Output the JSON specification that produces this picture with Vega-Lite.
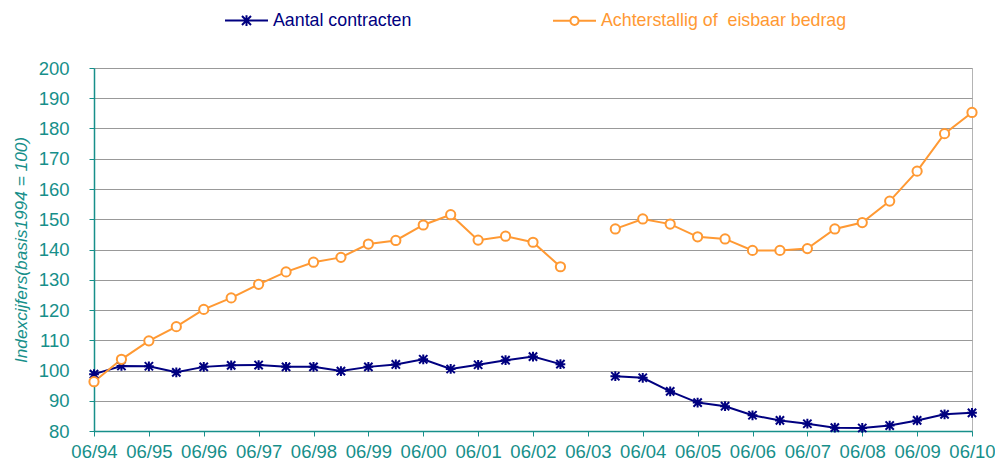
{
  "$schema": "https://vega.github.io/schema/vega-lite/v6.json",
  "autosize": "none",
  "width": 878,
  "height": 363,
  "padding": {"left": 94, "top": 68, "right": 23, "bottom": 34},
  "background": "white",
  "config": {
    "font": "Liberation Sans",
    "view": {"stroke": "#B4B4B4", "strokeWidth": 1}
  },
  "data": {
    "values": [
      {"periode": "06/94", "deel": 1, "Aantal contracten": 98.8, "Achterstallig of\u00a0 eisbaar bedrag": 96.3},
      {"periode": "12/94", "deel": 1, "Aantal contracten": 101.5, "Achterstallig of\u00a0 eisbaar bedrag": 103.7},
      {"periode": "06/95", "deel": 1, "Aantal contracten": 101.4, "Achterstallig of\u00a0 eisbaar bedrag": 109.8},
      {"periode": "12/95", "deel": 1, "Aantal contracten": 99.4, "Achterstallig of\u00a0 eisbaar bedrag": 114.5},
      {"periode": "06/96", "deel": 1, "Aantal contracten": 101.2, "Achterstallig of\u00a0 eisbaar bedrag": 120.2},
      {"periode": "12/96", "deel": 1, "Aantal contracten": 101.7, "Achterstallig of\u00a0 eisbaar bedrag": 124.0},
      {"periode": "06/97", "deel": 1, "Aantal contracten": 101.8, "Achterstallig of\u00a0 eisbaar bedrag": 128.5},
      {"periode": "12/97", "deel": 1, "Aantal contracten": 101.2, "Achterstallig of\u00a0 eisbaar bedrag": 132.6},
      {"periode": "06/98", "deel": 1, "Aantal contracten": 101.2, "Achterstallig of\u00a0 eisbaar bedrag": 135.8},
      {"periode": "12/98", "deel": 1, "Aantal contracten": 99.8, "Achterstallig of\u00a0 eisbaar bedrag": 137.4},
      {"periode": "06/99", "deel": 1, "Aantal contracten": 101.2, "Achterstallig of\u00a0 eisbaar bedrag": 141.8},
      {"periode": "12/99", "deel": 1, "Aantal contracten": 102.0, "Achterstallig of\u00a0 eisbaar bedrag": 143.0},
      {"periode": "06/00", "deel": 1, "Aantal contracten": 103.7, "Achterstallig of\u00a0 eisbaar bedrag": 148.1},
      {"periode": "12/00", "deel": 1, "Aantal contracten": 100.5, "Achterstallig of\u00a0 eisbaar bedrag": 151.5},
      {"periode": "06/01", "deel": 1, "Aantal contracten": 101.9, "Achterstallig of\u00a0 eisbaar bedrag": 143.1},
      {"periode": "12/01", "deel": 1, "Aantal contracten": 103.4, "Achterstallig of\u00a0 eisbaar bedrag": 144.4},
      {"periode": "06/02", "deel": 1, "Aantal contracten": 104.6, "Achterstallig of\u00a0 eisbaar bedrag": 142.4},
      {"periode": "12/02", "deel": 1, "Aantal contracten": 102.1, "Achterstallig of\u00a0 eisbaar bedrag": 134.3},
      {"periode": "12/03", "deel": 2, "Aantal contracten": 98.1, "Achterstallig of\u00a0 eisbaar bedrag": 146.8},
      {"periode": "06/04", "deel": 2, "Aantal contracten": 97.6, "Achterstallig of\u00a0 eisbaar bedrag": 150.1},
      {"periode": "12/04", "deel": 2, "Aantal contracten": 93.1, "Achterstallig of\u00a0 eisbaar bedrag": 148.4},
      {"periode": "06/05", "deel": 2, "Aantal contracten": 89.4, "Achterstallig of\u00a0 eisbaar bedrag": 144.2},
      {"periode": "12/05", "deel": 2, "Aantal contracten": 88.2, "Achterstallig of\u00a0 eisbaar bedrag": 143.5},
      {"periode": "06/06", "deel": 2, "Aantal contracten": 85.2, "Achterstallig of\u00a0 eisbaar bedrag": 139.7},
      {"periode": "12/06", "deel": 2, "Aantal contracten": 83.5, "Achterstallig of\u00a0 eisbaar bedrag": 139.7},
      {"periode": "06/07", "deel": 2, "Aantal contracten": 82.4, "Achterstallig of\u00a0 eisbaar bedrag": 140.3},
      {"periode": "12/07", "deel": 2, "Aantal contracten": 81.1, "Achterstallig of\u00a0 eisbaar bedrag": 146.8},
      {"periode": "06/08", "deel": 2, "Aantal contracten": 81.0, "Achterstallig of\u00a0 eisbaar bedrag": 148.9},
      {"periode": "12/08", "deel": 2, "Aantal contracten": 81.8, "Achterstallig of\u00a0 eisbaar bedrag": 156.0},
      {"periode": "06/09", "deel": 2, "Aantal contracten": 83.5, "Achterstallig of\u00a0 eisbaar bedrag": 165.9},
      {"periode": "12/09", "deel": 2, "Aantal contracten": 85.5, "Achterstallig of\u00a0 eisbaar bedrag": 178.3},
      {"periode": "06/10", "deel": 2, "Aantal contracten": 86.0, "Achterstallig of\u00a0 eisbaar bedrag": 185.3}
    ]
  },
  "transform": [
    {"fold": ["Aantal contracten", "Achterstallig of\u00a0 eisbaar bedrag"], "as": ["reeks", "waarde"]}
  ],
  "encoding": {
    "x": {
      "field": "periode",
      "type": "ordinal",
      "sort": null,
      "scale": {
        "type": "point",
        "padding": 0,
        "domain": ["06/94","12/94","06/95","12/95","06/96","12/96","06/97","12/97","06/98","12/98","06/99","12/99","06/00","12/00","06/01","12/01","06/02","12/02","06/03","12/03","06/04","12/04","06/05","12/05","06/06","12/06","06/07","12/07","06/08","12/08","06/09","12/09","06/10"]
      },
      "axis": {
        "title": null,
        "values": ["06/94","06/95","06/96","06/97","06/98","06/99","06/00","06/01","06/02","06/03","06/04","06/05","06/06","06/07","06/08","06/09","06/10"],
        "labelAngle": 0,
        "labelFontSize": 18.5,
        "labelColor": "#178F8A",
        "labelPadding": 6,
        "domainColor": "#178F8A",
        "domainWidth": 1.5,
        "tickColor": "#178F8A",
        "tickSize": 5,
        "grid": false
      }
    },
    "y": {
      "field": "waarde",
      "type": "quantitative",
      "scale": {"domain": [80, 200], "nice": false, "zero": false},
      "axis": {
        "title": "Indexcijfers(basis1994 = 100)",
        "titleFontStyle": "italic",
        "titleFontWeight": "normal",
        "titleFontSize": 17.3,
        "titleColor": "#178F8A",
        "titlePadding": 8,
        "values": [80, 90, 100, 110, 120, 130, 140, 150, 160, 170, 180, 190, 200],
        "labelFontSize": 18.5,
        "labelColor": "#178F8A",
        "labelPadding": 20,
        "domainColor": "#178F8A",
        "domainWidth": 1.5,
        "tickColor": "#178F8A",
        "tickSize": 5,
        "gridColor": "#999999",
        "gridWidth": 1
      }
    }
  },
  "layer": [
    {
      "mark": {"type": "line", "strokeWidth": 2},
      "encoding": {
        "detail": {"field": "deel", "type": "ordinal"},
        "color": {
          "field": "reeks",
          "type": "nominal",
          "scale": {
            "domain": ["Aantal contracten", "Achterstallig of\u00a0 eisbaar bedrag"],
            "range": ["#000080", "#FF9933"]
          },
          "legend": {
            "title": null,
            "orient": "none",
            "direction": "horizontal",
            "legendX": 130,
            "legendY": -70,
            "padding": 0,
            "labelFontSize": 17.8,
            "labelLimit": 0,
            "labelColor": {"expr": "datum.value == 'Aantal contracten' ? '#000080' : '#FF9933'"},
            "symbolType": {"expr": "datum.value == 'Aantal contracten' ? 'M-1,0L1,0M0,-0.25L0,0.25M-0.21,-0.21L0.21,0.21M-0.21,0.21L0.21,-0.21' : 'M-1,0L-0.19,0M0.19,0L1,0M-0.19,0A0.19,0.19 0 1,1 0.19,0A0.19,0.19 0 1,1 -0.19,0'"},
            "symbolSize": 1849,
            "symbolStrokeWidth": 2,
            "labelOffset": 4,
            "columnPadding": 137
          }
        }
      }
    },
    {
      "transform": [{"filter": "datum.reeks == 'Aantal contracten'"}],
      "mark": {"type": "point", "filled": false, "stroke": "#000080", "opacity": 1, "strokeWidth": 2, "size": 95, "shape": "M0,-1L0,1M-0.85,-0.85L0.85,0.85M-0.85,0.85L0.85,-0.85M-1,0L1,0"}
    },
    {
      "transform": [{"filter": "datum.reeks != 'Aantal contracten'"}],
      "mark": {"type": "point", "filled": false, "stroke": "#FF9933", "fill": "white", "fillOpacity": 1, "opacity": 1, "strokeWidth": 2, "size": 85, "shape": "circle"}
    }
  ]
}
